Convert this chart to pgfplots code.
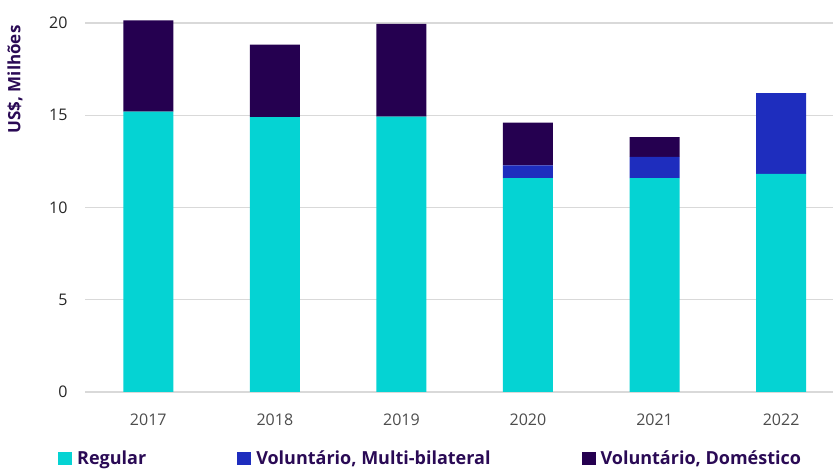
\documentclass[border=0pt]{standalone}
\usepackage{fontspec}
\setmainfont{Open Sans}
\usepackage{pgfplots}
\pgfplotsset{compat=1.18}
\definecolor{creg}{HTML}{05D3D3}
\definecolor{cmul}{HTML}{1E2DBE}
\definecolor{cdom}{HTML}{250050}
\definecolor{ctxt}{HTML}{2A0A55}
\begin{document}
\begin{tikzpicture}[x=1bp,y=1bp]
\path[use as bounding box] (0,0) rectangle (833,469);
\begin{axis}[
  at={(85bp,77bp)}, anchor=south west,
  scale only axis, width=748bp, height=392bp,
  xmin=-0.5, xmax=5.41, ymin=0, ymax=21.25,
  ybar stacked, bar width=50bp,
  axis line style={draw=none},
  xtick={0,1,2,3,4,5},
  xticklabels={2017,2018,2019,2020,2021,2022},
  ytick={0,5,10,15,20},
  ymajorgrids, grid style={draw=black!15, line width=1.3bp},
  major tick length=0pt,
  /pgf/number format/assume math mode=true,
  tick label style={font=\fontsize{16bp}{19bp}\selectfont},
  xticklabel style={text=black!70, yshift=-18bp},
  yticklabel style={text=black!85, xshift=-14bp},
  ylabel={US\$, Milhões},
  ylabel style={font=\bfseries\fontsize{17bp}{20bp}\selectfont, text=ctxt, at={(rel axis cs:0,1)}, anchor=east, xshift=-22bp, yshift=70bp},
  legend columns=3,
  legend style={at={(rel axis cs:0,0)}, anchor=north west, xshift=-27bp, yshift=-59bp, draw=none, fill=none, inner sep=0pt,
    font=\bfseries\fontsize{18bp}{21bp}\selectfont, text=ctxt,
    nodes={inner xsep=5bp, inner ysep=0pt},
    /tikz/every even column/.append style={column sep=86bp}},
  legend image code/.code={\fill[#1, draw=none] (0bp,-6.5bp) rectangle (14bp,6.5bp);},
]
\addplot[fill=creg, draw=none] coordinates {(0,15.2) (1,14.9) (2,14.93) (3,11.6) (4,11.6) (5,11.82)};
\addplot[fill=cmul, draw=none] coordinates {(0,0) (1,0) (2,0) (3,0.68) (4,1.14) (5,4.38)};
\addplot[fill=cdom, draw=none] coordinates {(0,4.94) (1,3.93) (2,5.02) (3,2.32) (4,1.08) (5,0)};
\legend{Regular, Voluntário{,} Multi-bilateral, Voluntário{,} Doméstico}
\end{axis}
\end{tikzpicture}
\end{document}
